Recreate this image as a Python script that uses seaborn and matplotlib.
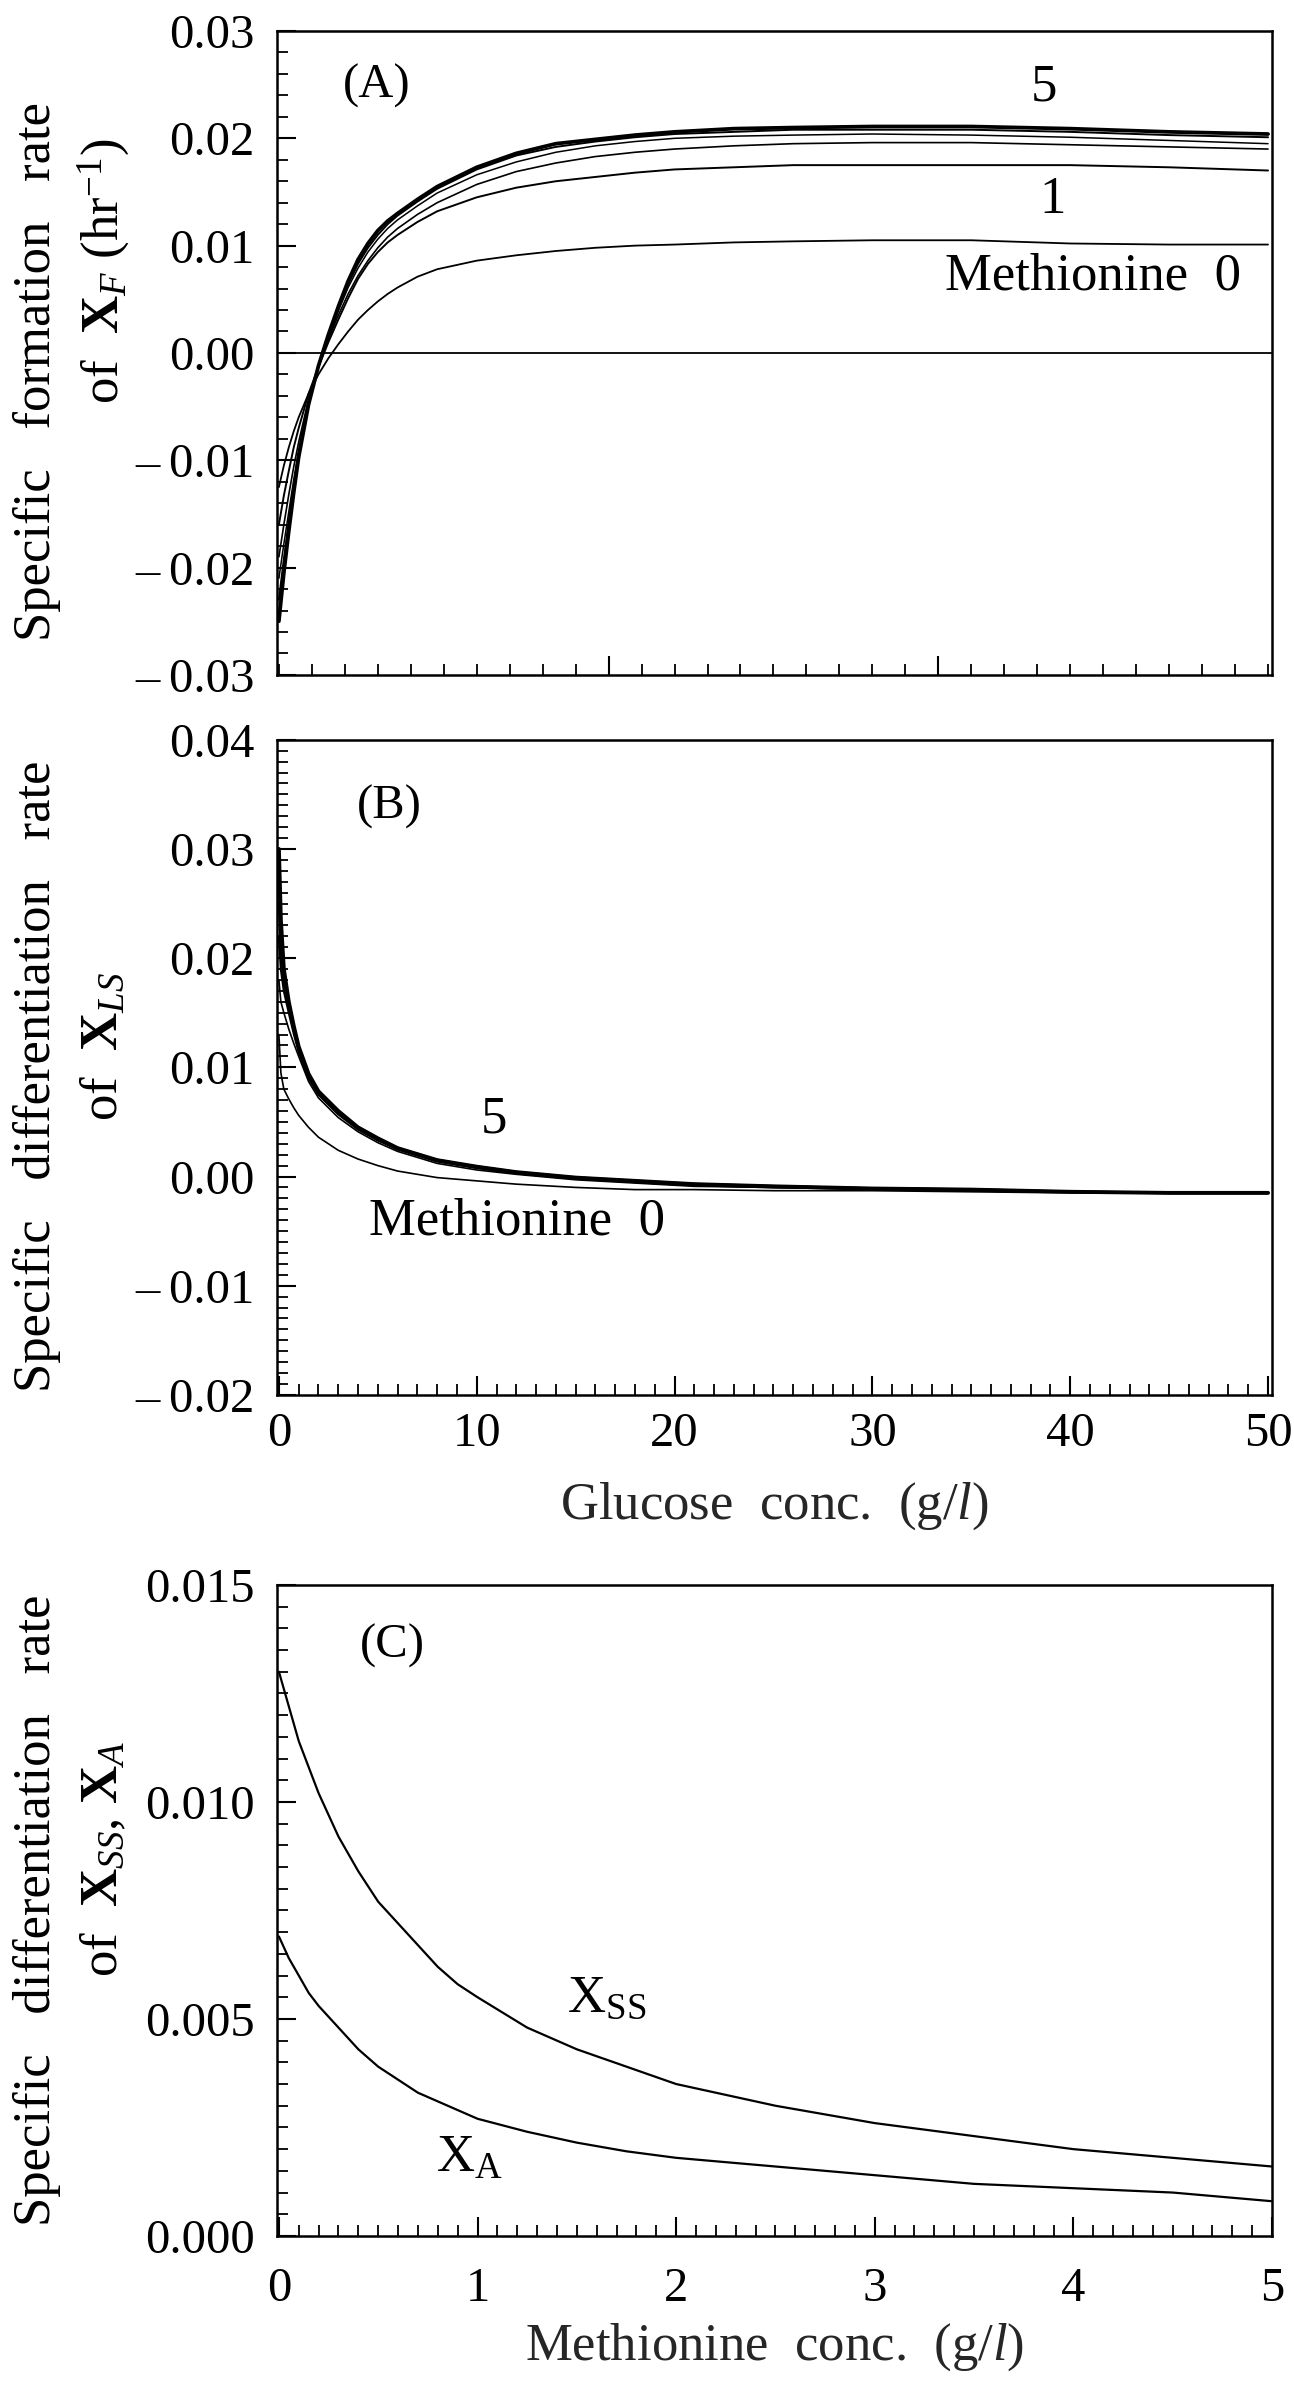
import matplotlib
matplotlib.use("Agg")
import matplotlib.pyplot as plt
import seaborn as sns
from matplotlib.ticker import MultipleLocator, FixedLocator, FixedFormatter, NullFormatter

# ---------------- data ----------------
# Panel A: specific formation rate of X_F vs glucose, methionine 0..5 g/l
glucose_A = [0, 0.25, 0.5, 0.75, 1.0, 1.5, 2.0, 2.5, 3.0, 3.5, 4.0, 4.5, 5.0, 5.5, 6.0, 7.0, 8.0,
             10, 12, 14, 16, 18, 20, 23, 26, 30, 35, 40, 45, 50]
formA_m0 = [-0.0125, -0.0105, -0.0088, -0.0073, -0.0060, -0.0038, -0.0020, -0.0005, 0.0008, 0.0020,
            0.0031, 0.0040, 0.0048, 0.0055, 0.0061, 0.0071, 0.0078, 0.0086, 0.0091, 0.0095,
            0.0098, 0.0100, 0.0101, 0.0103, 0.0104, 0.0105, 0.0105, 0.0102, 0.0101, 0.0101]
formA_m1 = [-0.0160, -0.0133, -0.0110, -0.0088, -0.0070, -0.0038, -0.0013, 0.0010, 0.0031, 0.0051,
            0.0069, 0.0083, 0.0094, 0.0103, 0.0110, 0.0122, 0.0132, 0.0145, 0.0154, 0.0160,
            0.0164, 0.0168, 0.0171, 0.0173, 0.0175, 0.0175, 0.0175, 0.0175, 0.0173, 0.0170]
formA_m2 = [-0.0190, -0.0160, -0.0132, -0.0106, -0.0083, -0.0043, -0.0012, 0.0013, 0.0035, 0.0055,
            0.0072, 0.0086, 0.0098, 0.0108, 0.0116, 0.0129, 0.0140, 0.0157, 0.0169, 0.0177,
            0.0183, 0.0187, 0.0190, 0.0193, 0.0195, 0.0196, 0.0196, 0.0194, 0.0192, 0.0190]
formA_m3 = [-0.0210, -0.0178, -0.0148, -0.0118, -0.0090, -0.0045, -0.0011, 0.0015, 0.0039, 0.0061,
            0.0079, 0.0094, 0.0106, 0.0116, 0.0124, 0.0137, 0.0149, 0.0166, 0.0178, 0.0187,
            0.0193, 0.0197, 0.0200, 0.0202, 0.0203, 0.0204, 0.0203, 0.0201, 0.0198, 0.0195]
formA_m4 = [-0.0230, -0.0192, -0.0157, -0.0124, -0.0094, -0.0047, -0.0012, 0.0016, 0.0041, 0.0064,
            0.0083, 0.0098, 0.0110, 0.0120, 0.0128, 0.0141, 0.0153, 0.0171, 0.0184, 0.0192,
            0.0197, 0.0201, 0.0204, 0.0206, 0.0208, 0.0208, 0.0208, 0.0206, 0.0203, 0.0201]
formA_m5 = [-0.0250, -0.0205, -0.0166, -0.0130, -0.0097, -0.0048, -0.0012, 0.0017, 0.0043, 0.0067,
            0.0087, 0.0102, 0.0114, 0.0123, 0.0130, 0.0143, 0.0155, 0.0173, 0.0186, 0.0195,
            0.0199, 0.0203, 0.0206, 0.0209, 0.0210, 0.0211, 0.0211, 0.0209, 0.0206, 0.0204]

# Panel B: specific differentiation rate of X_LS vs glucose
glucose_B = [0, 0.1, 0.25, 0.5, 0.75, 1.0, 1.5, 2, 3, 4, 5, 6, 8, 10, 12, 15, 18, 21, 25,
             30, 35, 40, 45, 50]
diffB_m0 = [0.0130, 0.0095, 0.0080, 0.0071, 0.0063, 0.0056, 0.0045, 0.0036, 0.0024, 0.0016,
            0.0010, 0.0005, -0.0001, -0.0004, -0.0007, -0.0010, -0.0012, -0.0012, -0.0013,
            -0.0013, -0.0014, -0.0015, -0.0015, -0.0015]
diffB_m1 = [0.0180, 0.0160, 0.0150, 0.0135, 0.0122, 0.0110, 0.0087, 0.0072, 0.0054, 0.0041,
            0.0031, 0.0023, 0.0012, 0.0006, 0.0002, -0.0003, -0.0006, -0.0009, -0.0010,
            -0.0012, -0.0013, -0.0014, -0.0015, -0.0015]
diffB_m2 = [0.0220, 0.0190, 0.0170, 0.0150, 0.0131, 0.0114, 0.0090, 0.0075, 0.0057, 0.0043,
            0.0033, 0.0025, 0.0014, 0.0008, 0.0003, -0.0002, -0.0005, -0.0008, -0.0010,
            -0.0011, -0.0013, -0.0014, -0.0015, -0.0015]
diffB_m3 = [0.0250, 0.0210, 0.0180, 0.0155, 0.0135, 0.0117, 0.0092, 0.0076, 0.0058, 0.0044,
            0.0034, 0.0025, 0.0014, 0.0008, 0.0003, -0.0002, -0.0005, -0.0008, -0.0009,
            -0.0011, -0.0012, -0.0014, -0.0015, -0.0015]
diffB_m4 = [0.0275, 0.0225, 0.0186, 0.0158, 0.0137, 0.0118, 0.0093, 0.0077, 0.0059, 0.0045,
            0.0035, 0.0026, 0.0015, 0.0009, 0.0004, -0.0001, -0.0004, -0.0007, -0.0009,
            -0.0011, -0.0012, -0.0014, -0.0015, -0.0015]
diffB_m5 = [0.0300, 0.0235, 0.0190, 0.0160, 0.0138, 0.0119, 0.0094, 0.0078, 0.0060, 0.0045,
            0.0035, 0.0026, 0.0015, 0.0009, 0.0004, -0.0001, -0.0004, -0.0007, -0.0009,
            -0.0011, -0.0012, -0.0014, -0.0015, -0.0015]

# Panel C: specific differentiation rate of X_SS and X_A vs methionine
methionine_C = [0, 0.05, 0.1, 0.15, 0.2, 0.3, 0.4, 0.5, 0.6, 0.7, 0.8, 0.9, 1.0, 1.25, 1.5,
                1.75, 2.0, 2.5, 3.0, 3.5, 4.0, 4.5, 5.0]
rate_XSS = [0.0130, 0.0122, 0.0114, 0.0108, 0.0102, 0.0092, 0.0084, 0.0077, 0.0072, 0.0067,
            0.0062, 0.0058, 0.0055, 0.0048, 0.0043, 0.0039, 0.0035, 0.0030, 0.0026, 0.0023,
            0.0020, 0.0018, 0.0016]
rate_XA = [0.0069, 0.0064, 0.0060, 0.0056, 0.0053, 0.0048, 0.0043, 0.0039, 0.0036, 0.0033,
           0.0031, 0.0029, 0.0027, 0.0024, 0.00215, 0.00195, 0.0018, 0.0016, 0.0014, 0.0012,
           0.0011, 0.0010, 0.0008]

# tick values / labels
yticks_A = [-0.03, -0.02, -0.01, 0.0, 0.01, 0.02, 0.03]
ylabels_A = ["\u2013\u20090.03", "\u2013\u20090.02", "\u2013\u20090.01", "0.00", "0.01", "0.02", "0.03"]
yticks_B = [-0.02, -0.01, 0.0, 0.01, 0.02, 0.03, 0.04]
ylabels_B = ["\u2013\u20090.02", "\u2013\u20090.01", "0.00", "0.01", "0.02", "0.03", "0.04"]
yticks_C = [0.0, 0.005, 0.010, 0.015]
ylabels_C = ["0.000", "0.005", "0.010", "0.015"]
xticks_B = [0, 10, 20, 30, 40, 50]
xticks_C = [0, 1, 2, 3, 4, 5]

# ---------------- style ----------------
sns.set_theme(style="ticks")
plt.rcParams.update({
    "font.family": ["Liberation Serif", "DejaVu Serif"],
    "mathtext.fontset": "custom",
    "mathtext.rm": "Liberation Serif",
    "mathtext.it": "Liberation Serif:italic",
    "mathtext.bf": "Liberation Serif:bold",
    "axes.linewidth": 1.8,
    "axes.edgecolor": "black",
    "xtick.direction": "in",
    "ytick.direction": "in",
    "xtick.color": "black",
    "ytick.color": "black",
    "text.color": "black",
})

fig = plt.figure(figsize=(12.94, 23.84), dpi=100)
fig.patch.set_facecolor("white")
L, W = 0.214, 0.769
axA = fig.add_axes([L, 0.7169, W, 0.2701])
axB = fig.add_axes([L, 0.4149, W, 0.2748])
axC = fig.add_axes([L, 0.0621, W, 0.2731])

K = "black"
# Panel A
for ys, lw in [(formA_m0, 1.3), (formA_m1, 1.4), (formA_m2, 1.2), (formA_m3, 1.1),
               (formA_m4, 1.4), (formA_m5, 2.7)]:
    sns.lineplot(x=glucose_A, y=ys, ax=axA, color=K, linewidth=lw, estimator=None, sort=False)
axA.axhline(0.0, color=K, linewidth=1.3)

# Panel B
for ys, lw in [(diffB_m0, 1.2), (diffB_m1, 1.2), (diffB_m2, 1.6), (diffB_m3, 1.8),
               (diffB_m4, 2.0), (diffB_m5, 2.8)]:
    sns.lineplot(x=glucose_B, y=ys, ax=axB, color=K, linewidth=lw, estimator=None, sort=False)

# Panel C
sns.lineplot(x=methionine_C, y=rate_XSS, ax=axC, color=K, linewidth=1.6, estimator=None, sort=False)
sns.lineplot(x=methionine_C, y=rate_XA, ax=axC, color=K, linewidth=1.6, estimator=None, sort=False)

TICK_FS = 35
for ax in (axA, axB, axC):
    for s in ax.spines.values():
        s.set_visible(True)
        s.set_color(K)
        s.set_linewidth(1.8)
    ax.set_facecolor("white")
    ax.grid(False)
    ax.tick_params(axis="both", which="major", length=14, width=1.5, labelsize=TICK_FS,
                   top=False, right=False)
    ax.tick_params(axis="both", which="minor", length=8, width=1.3, top=False, right=False)
    ax.tick_params(axis="y", which="major", pad=16)
    ax.set_xlabel("")
    ax.set_ylabel("")

# A axes
axA.set_xlim(-0.1, 50.2)
axA.set_ylim(-0.03, 0.03)
axA.xaxis.set_major_locator(FixedLocator([50 / 3, 100 / 3]))
axA.xaxis.set_minor_locator(MultipleLocator(50 / 30))
axA.xaxis.set_major_formatter(NullFormatter())
axA.tick_params(axis="x", labelbottom=False)
axA.yaxis.set_major_locator(FixedLocator(yticks_A))
axA.yaxis.set_major_formatter(FixedFormatter(ylabels_A))
axA.yaxis.set_minor_locator(MultipleLocator(0.002))

# B axes
axB.set_xlim(-0.1, 50.2)
axB.set_ylim(-0.02, 0.04)
axB.xaxis.set_major_locator(FixedLocator(xticks_B))
axB.xaxis.set_major_formatter(FixedFormatter([str(v) for v in xticks_B]))
axB.xaxis.set_minor_locator(MultipleLocator(1))
axB.yaxis.set_major_locator(FixedLocator(yticks_B))
axB.yaxis.set_major_formatter(FixedFormatter(ylabels_B))
axB.yaxis.set_minor_locator(MultipleLocator(0.001))
axB.tick_params(axis="x", which="major", pad=12)
axB.set_xlabel("Glucose  conc.  (g/$\\mathit{l}$)", fontsize=38, labelpad=18)

# C axes
axC.set_xlim(-0.01, 5.0)
axC.set_ylim(0.0, 0.015)
axC.xaxis.set_major_locator(FixedLocator(xticks_C))
axC.xaxis.set_major_formatter(FixedFormatter([str(v) for v in xticks_C]))
axC.xaxis.set_minor_locator(MultipleLocator(0.1))
axC.yaxis.set_major_locator(FixedLocator(yticks_C))
axC.yaxis.set_major_formatter(FixedFormatter(ylabels_C))
axC.yaxis.set_minor_locator(MultipleLocator(0.0005))
axC.tick_params(axis="x", which="major", pad=22)
axC.set_xlabel("Methionine  conc.  (g/$\\mathit{l}$)", fontsize=38, labelpad=8)

# in-plot labels
LBL = 38
axA.text(0.066, 0.915, "(A)", transform=axA.transAxes, fontsize=35, ha="left", va="center")
axA.text(0.771, 0.913, "5", transform=axA.transAxes, fontsize=LBL, ha="center", va="center")
axA.text(0.779, 0.738, "1", transform=axA.transAxes, fontsize=LBL, ha="center", va="center")
axA.text(0.969, 0.618, "Methionine  0", transform=axA.transAxes, fontsize=LBL, ha="right", va="center")

axB.text(0.080, 0.898, "(B)", transform=axB.transAxes, fontsize=35, ha="left", va="center")
axB.text(0.218, 0.420, "5", transform=axB.transAxes, fontsize=LBL, ha="center", va="center")
axB.text(0.093, 0.265, "Methionine  0", transform=axB.transAxes, fontsize=LBL, ha="left", va="center")

axC.text(0.083, 0.906, "(C)", transform=axC.transAxes, fontsize=35, ha="left", va="center")
axC.text(0.292, 0.365, "X$_{\\mathrm{SS}}$", transform=axC.transAxes, fontsize=LBL, ha="left", va="center")
axC.text(0.160, 0.118, "X$_{\\mathrm{A}}$", transform=axC.transAxes, fontsize=LBL, ha="left", va="center")

# y-axis labels (two lines each)
YL = 38
X1, X2 = 0.0286, 0.080
fig.text(X1, 0.844, "Specific   formation   rate", rotation=90, fontsize=YL, ha="center", va="center")
fig.text(X2, 0.886, "of  $\\mathbf{X}_{\\mathit{F}}$ (hr$^{-1}$)", rotation=90, fontsize=YL,
         ha="center", va="center")
fig.text(X1, 0.5487, "Specific   differentiation   rate", rotation=90, fontsize=YL, ha="center", va="center")
fig.text(X2, 0.561, "of  $\\mathbf{X}_{\\mathit{LS}}$", rotation=90, fontsize=YL, ha="center", va="center")
fig.text(X1, 0.1986, "Specific   differentiation   rate", rotation=90, fontsize=YL, ha="center", va="center")
fig.text(X2, 0.2205, "of  $\\mathbf{X}_{\\mathit{SS}}$, $\\mathbf{X}_{\\mathit{A}}$", rotation=90,
         fontsize=YL, ha="center", va="center")

fig.savefig("out.png", dpi=100, facecolor="white")
